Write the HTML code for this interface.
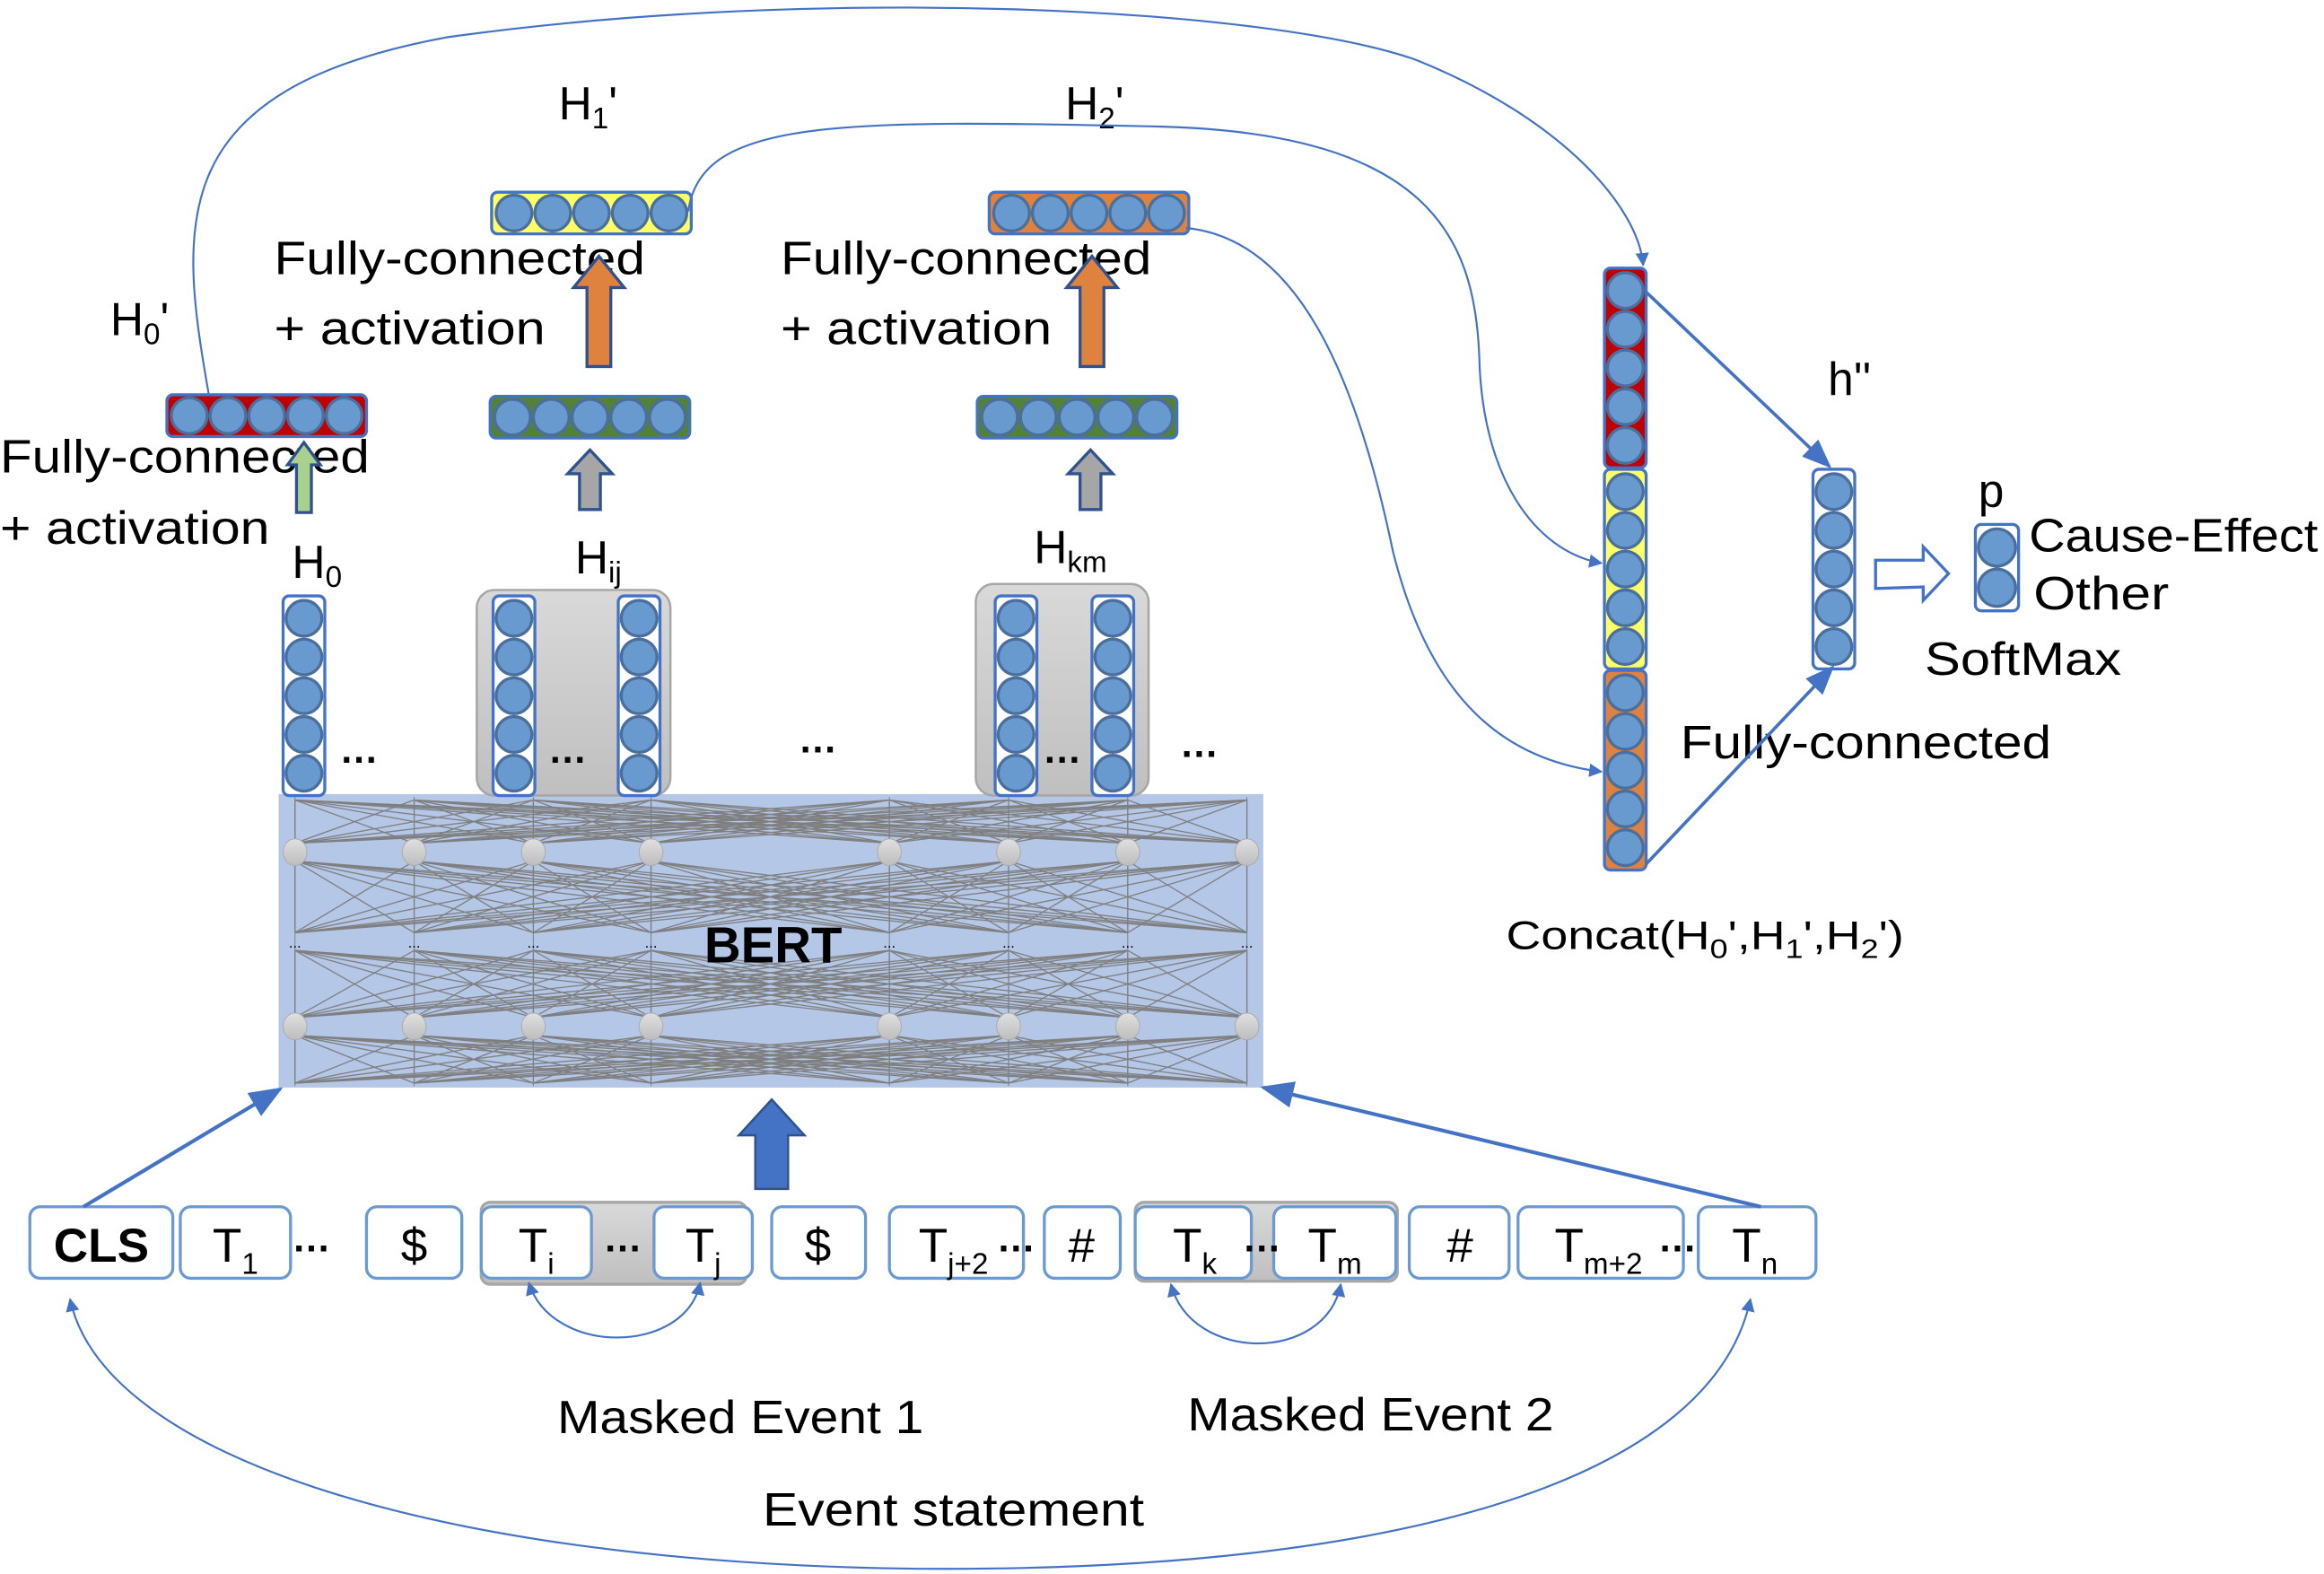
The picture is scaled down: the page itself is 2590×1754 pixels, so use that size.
<!DOCTYPE html>
<html><head><meta charset="utf-8">
<style>
html,body{margin:0;padding:0;background:#fff;}
svg{display:block;}
text{font-family:"Liberation Sans","DejaVu Sans",sans-serif;fill:#000;}
</style></head>
<body>
<svg id="s" width="2590" height="1754" viewBox="0 0 1560 1056.5" xmlns="http://www.w3.org/2000/svg">
<defs>
<marker id="ah" viewBox="0 0 10 10" refX="9" refY="5" markerWidth="7" markerHeight="7" orient="auto-start-reverse">
<path d="M0,0 L10,5 L0,10 z" fill="#4472c4"/></marker>
<marker id="ahs" viewBox="0 0 10 10" refX="9" refY="5" markerWidth="9" markerHeight="9" orient="auto-start-reverse">
<path d="M0,1 L10,5 L0,9 z" fill="#4472c4"/></marker>
<linearGradient id="ng" x1="0" y1="0" x2="0" y2="1"><stop offset="0" stop-color="#e0e0e0"/><stop offset="1" stop-color="#bdbdbd"/></linearGradient>
<linearGradient id="gb" x1="0" y1="0" x2="0" y2="1"><stop offset="0" stop-color="#d9d9d9"/><stop offset="1" stop-color="#bfbfbf"/></linearGradient>
</defs>
<rect width="1560" height="1057" fill="#fff"/>
<rect x="187" y="533" width="661" height="197" fill="#b4c7e7"/>
<g id="mesh" stroke="#7f7f7f" stroke-width="0.8" fill="none"></g>
<g id="nodes"></g>
<text x="519" y="646" font-size="34" font-weight="bold" text-anchor="middle">BERT</text>

<rect x="320" y="396" width="130" height="138" rx="12" fill="url(#gb)" stroke="#a6a6a6" stroke-width="1.5"/>
<rect x="655" y="392" width="116" height="142" rx="12" fill="url(#gb)" stroke="#a6a6a6" stroke-width="1.5"/>
<g id="vecs"></g>

<g font-size="26" font-weight="bold">
<text x="228" y="512">…</text><text x="368" y="512">…</text><text x="536" y="505">…</text><text x="700" y="512">…</text><text x="792" y="508">…</text>
</g>

<g font-size="31" lengthAdjust="spacingAndGlyphs">
<text x="196" y="388">H<tspan font-size="20" dy="6">0</tspan></text>
<text x="386" y="385">H<tspan font-size="20" dy="6">ij</tspan></text>
<text x="694" y="378">H<tspan font-size="20" dy="6">km</tspan></text>
<text x="74" y="225">H<tspan font-size="20" dy="6">0</tspan><tspan dy="-6">'</tspan></text>
<text x="375" y="80">H<tspan font-size="20" dy="6">1</tspan><tspan dy="-6">'</tspan></text>
<text x="715" y="80">H<tspan font-size="20" dy="6">2</tspan><tspan dy="-6">'</tspan></text>
<text x="0" y="317" textLength="248" lengthAdjust="spacingAndGlyphs">Fully-connected</text>
<text x="0" y="365" textLength="181" lengthAdjust="spacingAndGlyphs">+ activation</text>
<text x="184" y="184" textLength="249" lengthAdjust="spacingAndGlyphs">Fully-connected</text>
<text x="184" y="231" textLength="182" lengthAdjust="spacingAndGlyphs">+ activation</text>
<text x="524" y="184" textLength="249" lengthAdjust="spacingAndGlyphs">Fully-connected</text>
<text x="524" y="231" textLength="182" lengthAdjust="spacingAndGlyphs">+ activation</text>
<text x="1227" y="265">h''</text>
<text x="1328" y="340">p</text>
<text x="1362" y="370" textLength="194" lengthAdjust="spacingAndGlyphs">Cause-Effect</text>
<text x="1365" y="409" textLength="91" lengthAdjust="spacingAndGlyphs">Other</text>
<text x="1292" y="453" textLength="132" lengthAdjust="spacingAndGlyphs">SoftMax</text>
<text x="1128" y="509" textLength="249" lengthAdjust="spacingAndGlyphs">Fully-connected</text>
<text x="374" y="962" textLength="246" lengthAdjust="spacingAndGlyphs">Masked Event 1</text>
<text x="797" y="960" textLength="246" lengthAdjust="spacingAndGlyphs">Masked Event 2</text>
<text x="512" y="1024" textLength="256" lengthAdjust="spacingAndGlyphs">Event statement</text>
</g>
<text x="1011" y="637" font-size="27" textLength="267" lengthAdjust="spacingAndGlyphs">Concat(H<tspan font-size="18" dy="6">0</tspan><tspan dy="-6">',H</tspan><tspan font-size="18" dy="6">1</tspan><tspan dy="-6">',H</tspan><tspan font-size="18" dy="6">2</tspan><tspan dy="-6">')</tspan></text>

<g stroke="#2f528f" stroke-width="2">
<path d="M199,344 L199,312 L193,312 L204,297 L215,312 L209,312 L209,344 Z" fill="#a9d18e"/>
<path d="M389,342 L389,318 L381,318 L396,302 L411,318 L403,318 L403,342 Z" fill="#a6a6a6"/>
<path d="M725,342 L725,318 L717,318 L732,302 L747,318 L739,318 L739,342 Z" fill="#a6a6a6"/>
<path d="M394,246 L394,193 L385,193 L402,172 L419,193 L410,193 L410,246 Z" fill="#e0823f"/>
<path d="M725,246 L725,193 L716,193 L733,172 L750,193 L741,193 L741,246 Z" fill="#e0823f"/>
<path d="M1259,395 L1259,376 L1291,376 L1291,367 L1308,385 L1291,403 L1291,394 Z" fill="#fff" stroke="#4472c4"/>
</g>
<path d="M507,798 L507,762 L496,762 L518,738 L540,762 L529,762 L529,798 Z" fill="#4472c4" stroke="#2f528f" stroke-width="1.5"/>

<rect x="323" y="807" width="178" height="55" rx="6" fill="url(#gb)" stroke="#a6a6a6" stroke-width="2"/>
<rect x="762" y="807" width="176" height="53" rx="6" fill="url(#gb)" stroke="#a6a6a6" stroke-width="2"/>
<g id="toks" fill="#fff" stroke="#6b9ad3" stroke-width="2"></g>
<g font-size="32" text-anchor="middle">
<text x="68" y="847" font-weight="bold">CLS</text>
<text x="158" y="847">T<tspan font-size="20" dy="8">1</tspan></text>
<text x="278" y="847">$</text>
<text x="360" y="847">T<tspan font-size="20" dy="8">i</tspan></text>
<text x="472" y="847">T<tspan font-size="20" dy="8">j</tspan></text>
<text x="549" y="847">$</text>
<text x="640" y="847">T<tspan font-size="20" dy="8">j+2</tspan></text>
<text x="726" y="847">#</text>
<text x="802" y="847">T<tspan font-size="20" dy="8">k</tspan></text>
<text x="896" y="847">T<tspan font-size="20" dy="8">m</tspan></text>
<text x="980" y="847">#</text>
<text x="1073" y="847">T<tspan font-size="20" dy="8">m+2</tspan></text>
<text x="1178" y="847">T<tspan font-size="20" dy="8">n</tspan></text>
</g>
<g font-size="26" font-weight="bold">
<text x="196" y="840">…</text><text x="405" y="840">…</text><text x="669" y="840">…</text><text x="834" y="840">…</text><text x="1113" y="840">…</text>
</g>

<g fill="none" stroke="#4472c4" stroke-width="1.3">
<path d="M56,810 L188,731" stroke-width="2.5" marker-end="url(#ahs)"/>
<path d="M1182,810 L848,730" stroke-width="2.5" marker-end="url(#ahs)"/>
<path d="M1105,196 L1228,313" stroke-width="2.2" marker-end="url(#ahs)"/>
<path d="M1105,580 L1230,448" stroke-width="2.2" marker-end="url(#ahs)"/>
<path d="M140,264 C120,150 110,60 300,25 C550,-10 850,5 950,40 C1050,80 1100,140 1103,178" marker-end="url(#ah)"/>
<path d="M462,142 C470,80 560,80 780,85 C960,90 990,160 993,240 C995,320 1030,370 1075,378" marker-end="url(#ah)"/>
<path d="M796,153 C870,160 910,250 935,370 C960,470 1010,510 1075,518" marker-end="url(#ah)"/>
<path d="M355,861 C370,910 460,910 470,861" marker-start="url(#ah)" marker-end="url(#ah)"/>
<path d="M786,862 C800,915 890,915 900,862" marker-start="url(#ah)" marker-end="url(#ah)"/>
<path d="M47,872 C70,980 300,1050 620,1053 C950,1055 1150,990 1175,872" marker-start="url(#ah)" marker-end="url(#ah)"/>
</g>
</svg>
<script>
const NS="http://www.w3.org/2000/svg";
function el(p,t,a){const e=document.createElementNS(NS,t);for(const k in a)e.setAttribute(k,a[k]);p.appendChild(e);return e;}
const cols=[198,278,358,437,597,677,757,837];
const mesh=document.getElementById('mesh');
const pairs=[[537,566],[578,626],[638,683],[695,727]];
pairs.forEach(([a,b])=>{cols.forEach(x1=>cols.forEach(x2=>{el(mesh,'line',{x1:x1,y1:a,x2:x2,y2:b});}));});
cols.forEach(x=>{el(mesh,'line',{x1:x,y1:535,x2:x,y2:729,'stroke-width':0.6});});
const nodes=document.getElementById('nodes');
cols.forEach(x=>{[572,689].forEach(y=>el(nodes,'ellipse',{cx:x,cy:y,rx:8,ry:9,fill:'url(#ng)',stroke:'#aaa','stroke-width':0.6}));
 const t=el(nodes,'text',{x:x,y:636,'font-size':10,'text-anchor':'middle'});t.textContent='...';});
const V=document.getElementById('vecs');
function vcol(x,y,n,fill,r){r=r||12.5;el(V,'rect',{x:x,y:y,width:2*r+2,height:n*2*r+4,rx:4,fill:fill,stroke:'#4472c4','stroke-width':2});
 for(let i=0;i<n;i++)el(V,'circle',{cx:x+r+1,cy:y+2+r+i*2*r,r:r-1,fill:'#6899cf',stroke:'#4a6f9c','stroke-width':2});}
function vrow(x,y,n,fill,r){r=r||13;el(V,'rect',{x:x,y:y,width:n*2*r+4,height:2*r+2,rx:4,fill:fill,stroke:'#4472c4','stroke-width':2});
 for(let i=0;i<n;i++)el(V,'circle',{cx:x+2+r+i*2*r,cy:y+r+1,r:r-1,fill:'#6899cf',stroke:'#4a6f9c','stroke-width':2});}
vcol(190,400,5,'#fff',13);
vcol(331,400,5,'#fff',13);vcol(415,400,5,'#fff',13);
vcol(668,400,5,'#fff',13);vcol(733,400,5,'#fff',13);
vrow(112,265,5,'#c00000');
vrow(330,129,5,'#ffff66');
vrow(329,266,5,'#548235');
vrow(664,129,5,'#e0823f');
vrow(656,266,5,'#548235');
vcol(1077,180,5,'#c00000',13);
vcol(1077,315,5,'#ffff66',13);
vcol(1077,450,5,'#e0823f',13);
vcol(1217,315,5,'#fff',13);
vcol(1326,352,2,'#fff',13.5);
const T=document.getElementById('toks');
[[20,96],[121,74],[246,64],[323,74],[439,66],[518,63],[597,90],[701,51],[762,78],[855,82],[946,67],[1019,111],[1140,79]].forEach(([x,w])=>el(T,'rect',{x:x,y:810,width:w,height:48,rx:7}));
</script>
</body></html>
